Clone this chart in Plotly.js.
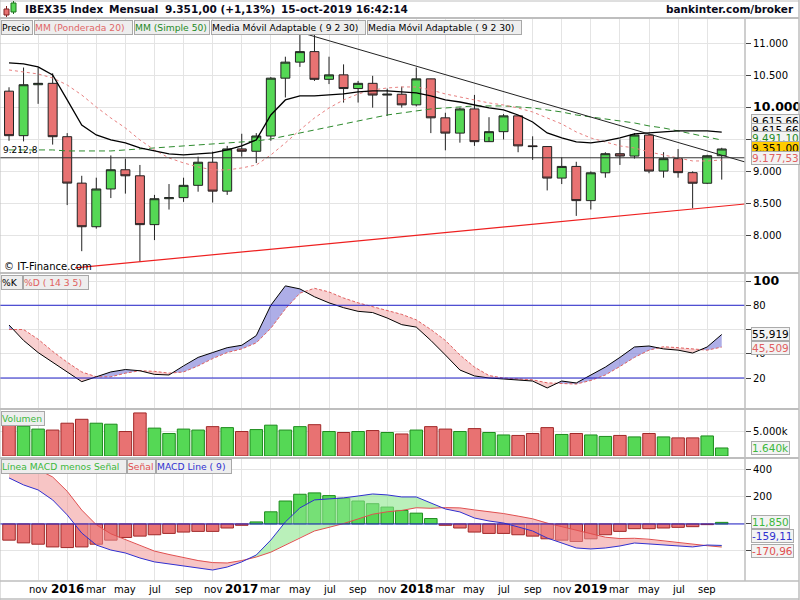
<!DOCTYPE html>
<html><head><meta charset="utf-8">
<script src="https://cdn.plot.ly/plotly-3.0.1.min.js"></script>
<style>body{margin:0;background:#fff}#chart{width:800px;height:600px}</style>
</head><body><div id="chart"></div>
<script>
// ---------- DATA (monthly, Sep 2015 .. Oct 2019) ----------
const months = ['2015-09','2015-10','2015-11','2015-12','2016-01','2016-02','2016-03','2016-04','2016-05','2016-06','2016-07','2016-08','2016-09','2016-10','2016-11','2016-12','2017-01','2017-02','2017-03','2017-04','2017-05','2017-06','2017-07','2017-08','2017-09','2017-10','2017-11','2017-12','2018-01','2018-02','2018-03','2018-04','2018-05','2018-06','2018-07','2018-08','2018-09','2018-10','2018-11','2018-12','2019-01','2019-02','2019-03','2019-04','2019-05','2019-06','2019-07','2019-08','2019-09','2019-10'];
const openP  = [10259,9560,10360,10382,9544,8815,8130,8723,9025,8930,8163,8570,8587,8780,9143,8689,9352,9315,9555,10463,10715,10880,10445,10515,10300,10382,10198,10211,10044,10452,9840,9600,9980,9466,9623,9871,9400,9389,8894,9077,8540,8977,9277,9240,9570,9004,9199,8979,8813,9245];
const highP  = [10320,10630,10630,10540,9600,8930,8900,9250,9200,9100,8630,8800,8900,9230,9310,9400,9590,9600,10480,10800,11184,11140,10800,10680,10420,10500,10300,10330,10630,10450,9920,10000,10200,9850,9900,9880,9550,9390,9220,9150,9000,9300,9500,9600,9590,9300,9350,9000,9260,9370];
const lowP   = [9480,9470,10060,9420,8470,7746,8100,8580,8650,7580,7920,8400,8520,8680,8510,8630,9230,9130,9480,10160,10640,10420,10370,10080,10080,10000,9870,10000,10020,9600,9330,9450,9400,9540,9500,9300,9180,8700,8800,8300,8400,8900,9100,9200,8970,8900,8900,8420,8800,8870];
const closeP = [9560,10360,10382,9544,8815,8130,8723,9025,8930,8163,8570,8587,8780,9143,8689,9352,9315,9555,10463,10715,10880,10445,10515,10300,10382,10198,10211,10044,10452,9840,9600,9980,9466,9623,9871,9400,9389,8894,9077,8540,8977,9277,9240,9570,9004,9199,8979,8813,9245,9351];
const wma20  = [10592,10560,10529,10466,10356,10199,10010,9838,9681,9493,9336,9210,9132,9069,9022,9022,9053,9100,9257,9446,9650,9838,9995,10121,10215,10278,10309,10325,10325,10278,10215,10168,10121,10074,10042,9995,9932,9838,9744,9618,9524,9461,9399,9367,9305,9257,9210,9163,9163,9177.53];
const sma50  = [9336,9336,9336,9336,9320,9320,9320,9320,9336,9351,9367,9383,9399,9414,9430,9446,9461,9477,9508,9556,9603,9650,9697,9744,9791,9838,9885,9917,9948,9980,9995,10011,10027,10027,10027,10011,9995,9964,9932,9885,9854,9822,9791,9760,9713,9681,9634,9587,9540,9491.10];
const kama   = [10702,10686,10639,10513,10121,9728,9571,9493,9446,9367,9320,9273,9257,9273,9289,9336,9399,9493,9885,10121,10184,10184,10200,10215,10247,10262,10262,10247,10231,10184,10121,10089,10042,9995,9964,9885,9775,9603,9524,9461,9446,9477,9524,9587,9603,9618,9634,9634,9634,9615.66];
const volumeK = [6300,6100,5500,5300,6700,7500,6700,6500,5000,8800,5700,4600,5500,5300,6000,5800,5000,5400,6300,5300,6000,6400,5000,4800,5000,5200,4800,4500,5300,6000,5500,5000,5600,4800,4300,4200,4600,5800,4400,4600,4300,4000,4200,3900,4600,3900,3700,3700,4100,1640];
const stochK = [63.7,51,41,33,25,17,21,25,27,26,23,22.5,30,37,41,45,47,55,80,96,93.5,87,82,78,75,74,69.5,64,62,51,39,26.6,21.7,20,19.2,18.4,17.5,11.8,17.5,15.9,22.5,29,37,45.6,46.4,44,43,40.6,45.6,55.919];
const stochD = [60,60,52,42,33,25,21,21,24,26,25.5,24,25,30,36,41,44,49,61,77,90,94,91,86,82,79,76,72.5,68,60,51,39,29,22,20,19.5,18.5,16,15.5,15,18,22.5,29.5,37,43,45.8,45,44,43,45.509];
const macdLine = [341,289,252,178,67,-67,-156,-193,-215,-252,-281,-296,-311,-326,-341,-319,-281,-230,-119,15,119,178,185,193,207,222,215,200,200,156,111,89,44,22,7,-22,-52,-104,-141,-178,-185,-178,-163,-141,-148,-156,-163,-170,-156,-159.11];
const macdSignal = [461,429,402,348,242,103,-6,-73,-115,-162,-201,-226,-251,-271,-286,-289,-271,-245,-209,-155,-101,-52,-25,3,37,72,90,100,120,116,121,119,104,92,77,58,38,6,-21,-48,-75,-98,-108,-106,-113,-126,-138,-150,-161,-170.96];
const macdHist = [-120,-140,-150,-170,-175,-170,-150,-120,-100,-90,-80,-70,-60,-55,-55,-30,-10,15,90,170,220,230,210,190,170,150,125,100,80,40,-10,-30,-60,-70,-70,-80,-90,-110,-120,-130,-110,-80,-55,-35,-35,-30,-25,-20,-5,11.85];
const hLineLevel = 9212.8;
const resistX = [20, 50.6], resistY = [11184, 9147];
const supportX = [4.54, 50.6], supportY = [7483, 8487];
const tickIdx = [2,4,6,8,10,12,14,16,18,20,22,24,26,28,30,32,34,36,38,40,42,44,46,48];
const tickLabels = ['nov','2016','mar','may','jul','sep','nov','2017','mar','may','jul','sep','nov','2018','mar','may','jul','sep','nov','2019','mar','may','jul','sep'];

// ---------- helpers ----------
const X = months.map((_, i) => i);
const F = 'DejaVu Sans';
function fmt(v, dec) {
  const neg = v < 0; const s = Math.abs(v).toFixed(dec);
  let [ip, fp] = s.split('.');
  ip = ip.replace(/\B(?=(\d{3})+(?!\d))/g, '.');
  return (neg ? '-' : '') + ip + (fp ? ',' + fp : '');
}
const PT = 18, PB = 580, PH = PB - PT, PW = 745;
const py = p => (PB - p) / PH;      // pixel y -> paper
const px = p => p / PW;             // pixel x -> paper

function bandTraces(x, a, b, colPos, colNeg, ya) {
  const out = [];
  let seg = null;
  const flush = () => {
    if (seg && seg.xs.length > 1) out.push({
      type: 'scatter', mode: 'lines', x: seg.xs.concat(seg.xs.slice().reverse()),
      y: seg.as.concat(seg.bs.slice().reverse()), fill: 'toself',
      fillcolor: seg.sign > 0 ? colPos : colNeg, line: {width: 0}, yaxis: ya, hoverinfo: 'skip'
    });
  };
  for (let i = 0; i < x.length; i++) {
    const d = a[i] - b[i], s = d >= 0 ? 1 : -1;
    if (!seg) seg = {sign: s, xs: [], as: [], bs: []};
    else if (s !== seg.sign) {
      const d0 = a[i-1] - b[i-1], t = d0 / (d0 - d);
      const xc = x[i-1] + t * (x[i] - x[i-1]), yc = a[i-1] + t * (a[i] - a[i-1]);
      seg.xs.push(xc); seg.as.push(yc); seg.bs.push(yc); flush();
      seg = {sign: s, xs: [xc], as: [yc], bs: [yc]};
    }
    seg.xs.push(x[i]); seg.as.push(a[i]); seg.bs.push(b[i]);
  }
  flush();
  return out;
}

const GREEN_F = '#55D855', GREEN_L = '#1E8C1E', RED_F = '#E87272', RED_L = '#A02828';
const upDown = closeP.map((c, i) => c >= openP[i]);

// ---------- traces ----------
const traces = [];
traces.push({type: 'scatter', mode: 'lines', x: X, y: sma50, yaxis: 'y', line: {color: '#2E8B2E', width: 1, dash: '6px,4px'}, hoverinfo: 'skip'});
traces.push({type: 'scatter', mode: 'lines', x: X, y: wma20, yaxis: 'y', line: {color: '#E88080', width: 1, dash: '3px,3px'}, hoverinfo: 'skip'});
traces.push({type: 'scatter', mode: 'lines', x: X, y: kama, yaxis: 'y', line: {color: '#000', width: 1.3}, hoverinfo: 'skip'});
traces.push({type: 'scatter', mode: 'lines', x: resistX, y: resistY, yaxis: 'y', line: {color: '#222', width: 1}, hoverinfo: 'skip'});
traces.push({type: 'scatter', mode: 'lines', x: supportX, y: supportY, yaxis: 'y', line: {color: '#EE2020', width: 1.2}, hoverinfo: 'skip'});
traces.push({type: 'candlestick', x: X, open: openP, high: highP, low: lowP, close: closeP, yaxis: 'y',
  whiskerwidth: 0,
  increasing: {line: {color: '#222', width: 1}, fillcolor: GREEN_F},
  decreasing: {line: {color: '#222', width: 1}, fillcolor: RED_F}, hoverinfo: 'skip'});

// stochastic
bandTraces(X, stochK, stochD, 'rgba(120,120,215,0.6)', 'rgba(240,150,150,0.45)', 'y2').forEach(t => traces.push(t));
traces.push({type: 'scatter', mode: 'lines', x: X, y: stochD, yaxis: 'y2', line: {color: '#E06060', width: 1, dash: '3px,2px'}, hoverinfo: 'skip'});
traces.push({type: 'scatter', mode: 'lines', x: X, y: stochK, yaxis: 'y2', line: {color: '#000', width: 1}, hoverinfo: 'skip'});

// volume
traces.push({type: 'bar', x: X, y: volumeK, yaxis: 'y3',
  marker: {color: upDown.map(u => u ? GREEN_F : RED_F), line: {color: upDown.map(u => u ? GREEN_L : RED_L), width: 1}}, hoverinfo: 'skip'});

// MACD
bandTraces(X, macdLine, macdSignal, 'rgba(140,230,140,0.6)', 'rgba(240,150,150,0.55)', 'y4').forEach(t => traces.push(t));
traces.push({type: 'bar', x: X, y: macdHist, yaxis: 'y4',
  marker: {color: macdHist.map(v => v >= 0 ? GREEN_F : RED_F), line: {color: macdHist.map(v => v >= 0 ? GREEN_L : RED_L), width: 1}}, hoverinfo: 'skip'});
traces.push({type: 'scatter', mode: 'lines', x: X, y: macdSignal, yaxis: 'y4', line: {color: '#E05050', width: 1}, hoverinfo: 'skip'});
traces.push({type: 'scatter', mode: 'lines', x: X, y: macdLine, yaxis: 'y4', line: {color: '#3030D0', width: 1}, hoverinfo: 'skip'});

// ---------- layout ----------
const last = a => a[a.length - 1];
const grid = '#E4E4E4';
const yBase = {side: 'right', anchor: 'x', showgrid: true, gridcolor: grid, zeroline: false, ticks: 'outside', ticklen: 5, tickcolor: '#444', showline: false, tickfont: {family: F, size: 10, color: '#000'}, fixedrange: true};
const big = t => '<span style="font-size:12.5px"><b>' + t + '</b></span>';

const annotations = [];
function ann(x, y, text, opt) {
  annotations.push(Object.assign({xref: 'paper', yref: 'paper', x: x, y: y, text: text, showarrow: false, xanchor: 'left', yanchor: 'middle', font: {family: F, size: 10, color: '#000'}}, opt || {}));
}
// x-axis labels (months regular, years bold)
tickIdx.forEach((xi, k) => {
  const t = tickLabels[k], yr = /^\d{4}$/.test(t);
  annotations.push({xref: 'x', yref: 'paper', x: xi, y: py(589), text: yr ? '<b>' + t + '</b>' : t,
    showarrow: false, xanchor: 'center', yanchor: 'middle', font: {family: F, size: yr ? 12 : 10, color: '#000'}});
});
// header
const hf = {family: F, size: 10.5, color: '#0a0a1a'};
ann(px(23), py(9), '<b>IBEX35 Index</b>', {font: hf});
ann(px(107), py(9), '<b>Mensual</b>', {font: hf});
ann(px(163), py(9), '<b>' + fmt(last(closeP), 2) + ' (+1,13%)</b>', {font: hf});
ann(px(279), py(9), '<b>15-oct-2019 16:42:14</b>', {font: hf});
ann(px(796), py(9), '<b>bankinter.com/broker</b>', {font: hf, xanchor: 'right'});
// legend buttons
function btn(x, ytop, w, text, color) {
  ann(px(x), py(ytop), text, {yanchor: 'top', width: w, height: 13, align: 'left', bgcolor: '#EEEEEE', bordercolor: '#A8A8A8', borderwidth: 1, borderpad: 0, font: {family: F, size: 9.2, color: color}});
}
btn(1, 20, 30, 'Precio', '#000');
btn(34, 20, 97, 'MM (Ponderada 20)', '#E06868');
btn(134, 20, 74, 'MM (Simple 50)', '#1F8A1F');
btn(211, 20, 153, 'Media Móvil Adaptable ( 9 2 30)', '#000');
btn(367, 20, 153, 'Media Móvil Adaptable ( 9 2 30)', '#000');
btn(1, 275, 20, '%K', '#000');
btn(23, 275, 64, '%D ( 14 3 5)', '#E06060');
btn(1, 411, 42, 'Volumen', '#3CB83C');
btn(1, 459, 124, 'Línea MACD menos Señal', '#3CB83C');
btn(127, 459, 27, 'Señal', '#E05050');
btn(156, 459, 74, 'MACD Line ( 9)', '#3030D0');
// texts
ann(px(2), py(266), '© IT-Finance.com', {font: {family: F, size: 10, color: '#000'}});
ann(px(1), py(150), fmt(hLineLevel, 1), {font: {family: F, size: 9, color: '#000'}});
// value boxes
function vbox(ypx, text, color, bg) {
  ann(px(751), py(ypx), text, {bgcolor: bg || '#F3F3F3', bordercolor: '#ABABAB', borderwidth: 1, borderpad: 0, font: {family: F, size: 10.5, color: color}});
}
vbox(121, fmt(last(kama), 2), '#000');
vbox(130, fmt(last(kama), 2), '#000');
vbox(138, fmt(last(sma50), 2), '#1F8A1F');
vbox(148, fmt(last(closeP), 2), '#000', '#FFCC00');
vbox(158, fmt(last(wma20), 2), '#E06060');
vbox(334, fmt(last(stochK), 3), '#000');
vbox(348, fmt(last(stochD), 3), '#E06060');
vbox(448, fmt(last(volumeK), 0) + 'k', '#3CB83C');
vbox(522, fmt(last(macdHist), 3), '#3CB83C');
vbox(536, fmt(last(macdLine), 2), '#3030D0');
vbox(551, fmt(last(macdSignal), 2), '#E05050');

// shapes
const shapes = [];
const L = (x0, y0, x1, y1, color, w, xr, yr, dash) => shapes.push({type: 'line', xref: xr || 'paper', yref: yr || 'paper', x0, y0, x1, y1, line: {color, width: w, dash: dash || 'solid'}, layer: 'above'});
L(0, hLineLevel, 1, hLineLevel, '#333', 1, 'paper', 'y');
L(0, 80, 1, 80, '#2222CC', 1, 'paper', 'y2');
L(0, 20, 1, 20, '#2222CC', 1, 'paper', 'y2');
L(0, 0, 1, 0, '#2222CC', 1, 'paper', 'y4');
const sep = '#BEBEBE', Rx = px(799);
[18, 273, 409, 458].forEach(p => L(0, py(p), Rx, py(p), sep, 2));
L(0, py(581), Rx, py(581), sep, 1.5);
L(1, py(18), 1, py(581), sep, 1.5);
L(Rx, py(0), Rx, py(600), sep, 1.5);
L(0, py(600), 0, py(0), sep, 1);
L(0, py(599), Rx, py(599), sep, 1.5);
L(0, py(1), Rx, py(1), sep, 1);
// header icon
shapes.push({type: 'line', xref: 'paper', yref: 'paper', x0: px(6.5), x1: px(6.5), y0: py(6), y1: py(17), line: {color: '#802020', width: 1}});
shapes.push({type: 'rect', xref: 'paper', yref: 'paper', x0: px(4), x1: px(9), y0: py(9), y1: py(15), fillcolor: RED_F, line: {color: '#802020', width: 1}});
shapes.push({type: 'line', xref: 'paper', yref: 'paper', x0: px(13.5), x1: px(13.5), y0: py(1), y1: py(14), line: {color: '#1E6E1E', width: 1}});
shapes.push({type: 'rect', xref: 'paper', yref: 'paper', x0: px(11), x1: px(16), y0: py(3), y1: py(12), fillcolor: GREEN_F, line: {color: '#1E6E1E', width: 1}});

const layout = {
  width: 800, height: 600, margin: {l: 0, r: 55, t: PT, b: 600 - PB},
  paper_bgcolor: '#fff', plot_bgcolor: '#fff', showlegend: false, hovermode: false,
  font: {family: F, size: 10, color: '#000'},
  bargap: 0.14, boxgap: 0.12,
  xaxis: {range: [-0.62, 50.6], anchor: 'y4', tickvals: tickIdx, showticklabels: false,
    showgrid: true, gridcolor: grid, ticks: '', zeroline: false, showline: false, rangeslider: {visible: false},
    fixedrange: true},
  yaxis: Object.assign({}, yBase, {domain: [py(272), 1], range: [7419, 11408],
    tickvals: [8000, 8500, 9000, 9500, 10000, 10500, 11000],
    ticktext: ['8.000', '8.500', '9.000', '', big('10.000'), '10.500', '11.000']}),
  yaxis2: Object.assign({}, yBase, {domain: [py(408), py(274)], range: [-4.74, 105.8],
    tickvals: [20, 40, 60, 80, 100], ticktext: ['20', '40', '', '80', big('100')]}),
  yaxis3: Object.assign({}, yBase, {domain: [py(456), py(410)], range: [0, 9400],
    tickvals: [5000], ticktext: ['5.000k']}),
  yaxis4: Object.assign({}, yBase, {domain: [0, py(459)], range: [-415, 481],
    tickvals: [-200, 0, 200, 400], ticktext: ['', '', '200', '400']}),
  annotations, shapes
};
Plotly.newPlot('chart', traces, layout, {staticPlot: true, displayModeBar: false});
</script>
</body></html>
